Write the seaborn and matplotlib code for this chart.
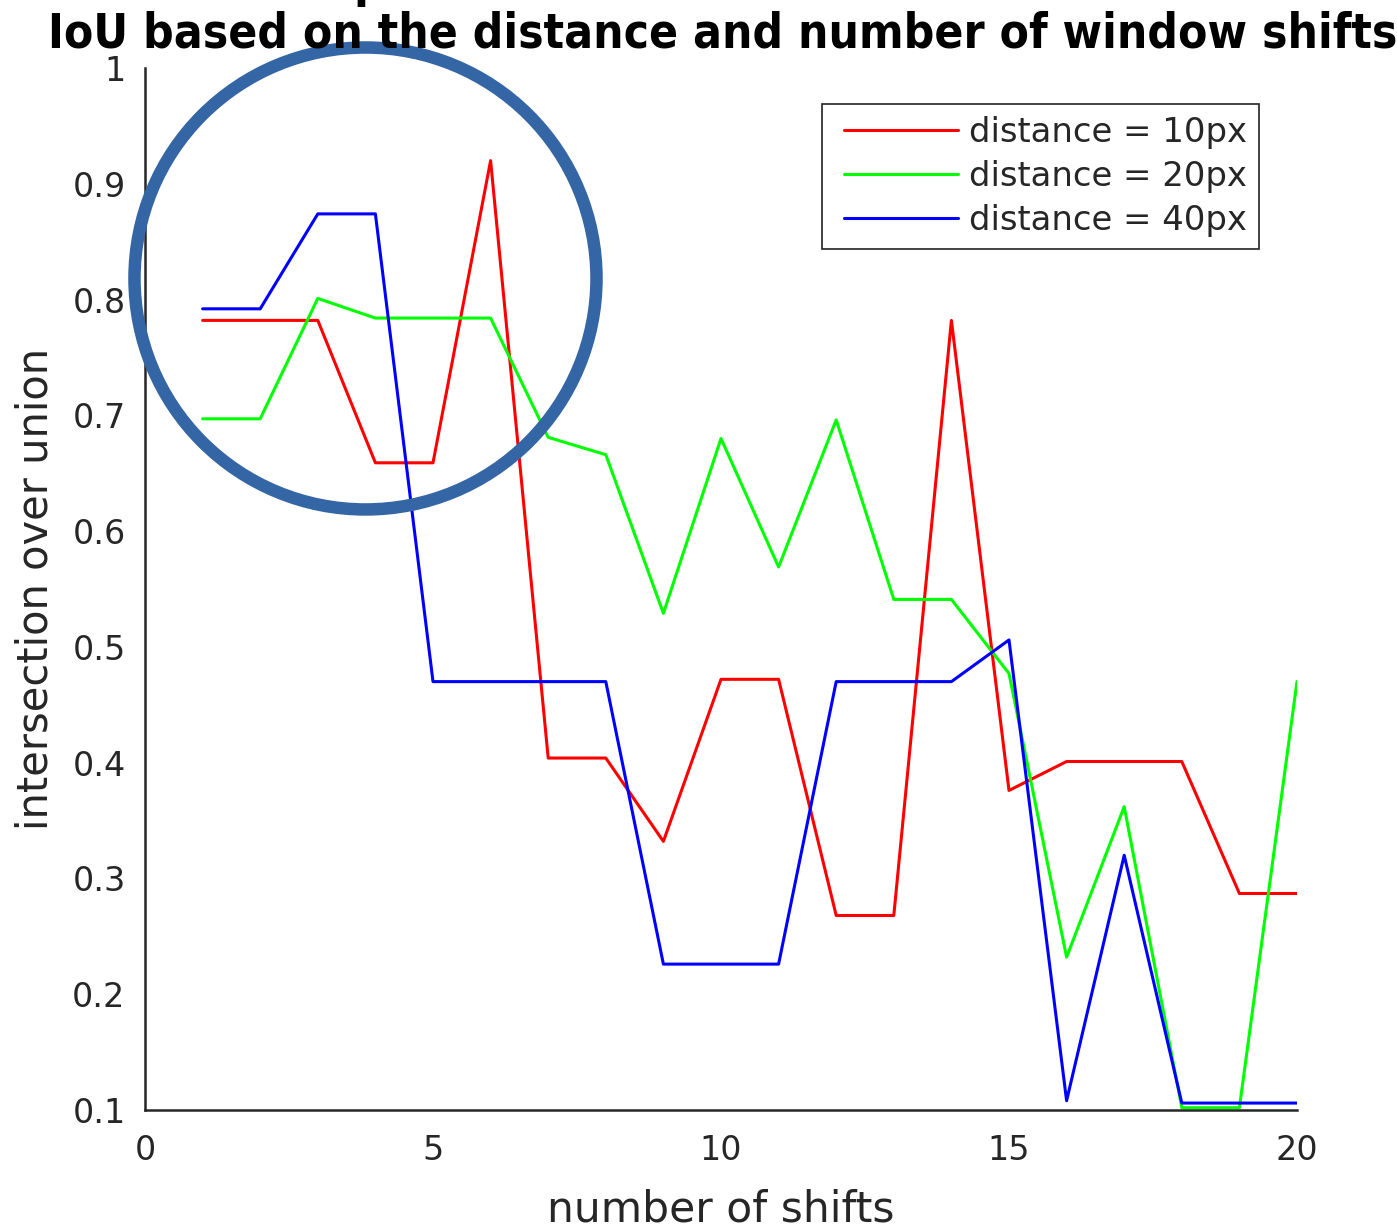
import matplotlib
matplotlib.use("Agg")
import matplotlib.pyplot as plt
from matplotlib.patches import Ellipse
from matplotlib.lines import Line2D
from matplotlib.legend_handler import HandlerLine2D
import numpy as np
import pandas as pd
import seaborn as sns

# values
shifts = list(range(1, 21))
iou_10px = [0.782, 0.782, 0.782, 0.659, 0.659, 0.920, 0.404, 0.404, 0.332, 0.472,
            0.472, 0.268, 0.268, 0.782, 0.376, 0.401, 0.401, 0.401, 0.287, 0.287]
iou_20px = [0.697, 0.697, 0.801, 0.784, 0.784, 0.784, 0.681, 0.666, 0.529, 0.680,
            0.569, 0.696, 0.541, 0.541, 0.477, 0.232, 0.362, 0.102, 0.102, 0.470]
iou_40px = [0.792, 0.792, 0.874, 0.874, 0.470, 0.470, 0.470, 0.470, 0.226, 0.226,
            0.226, 0.470, 0.470, 0.470, 0.506, 0.108, 0.320, 0.106, 0.106, 0.106]
labels = ["distance = 10px", "distance = 20px", "distance = 40px"]
colors = ["#ff0000", "#00ff00", "#0000ff"]

df = pd.DataFrame({
    "shifts": shifts * 3,
    "iou": iou_10px + iou_20px + iou_40px,
    "series": [labels[0]] * 20 + [labels[1]] * 20 + [labels[2]] * 20,
})

sns.set_theme(style="white")
plt.rcParams["font.family"] = ["DejaVu Sans"]
ink = "#262626"

fig = plt.figure(figsize=(13.97, 12.24), dpi=100)
ax = fig.add_axes([145 / 1397, 1 - 1110 / 1224, 1152 / 1397, 1042 / 1224])

sns.lineplot(data=df, x="shifts", y="iou", hue="series", palette=colors,
             linewidth=2.2, ax=ax, legend=True)

ax.set_xlim(0, 20)
ax.set_ylim(0.1, 1)
ax.set_xticks([0, 5, 10, 15, 20])
ax.set_yticks(np.round(np.arange(0.1, 1.01, 0.1), 1))
ax.set_yticklabels(["0.1", "0.2", "0.3", "0.4", "0.5", "0.6", "0.7", "0.8", "0.9", "1"])

for s in ["top", "right"]:
    ax.spines[s].set_visible(False)
for s in ["left", "bottom"]:
    ax.spines[s].set_color(ink)
    ax.spines[s].set_linewidth(1.8)
ax.tick_params(axis="both", direction="in", length=7, width=1.8, color=ink,
               labelcolor=ink, labelsize=24)
ax.tick_params(axis="y", pad=14)
ax.tick_params(axis="x", pad=17)

ax.set_xlabel("number of shifts", fontsize=30.5, color=ink)
ax.set_ylabel("intersection over union", fontsize=30, color=ink)
ax.xaxis.set_label_coords(0.5, -0.0749)
ax.yaxis.set_label_coords(-0.0764, 0.5)

# MATLAB-like legend: a little extra room before the line samples
leg = ax.legend(loc="upper right", bbox_to_anchor=(0.967, 0.9655), borderaxespad=0,
                fontsize=24.4, frameon=True, fancybox=False, framealpha=1,
                edgecolor="#222222", handlelength=3.67, handletextpad=0.33,
                labelspacing=0.33, borderpad=0.35,
                handler_map={Line2D: HandlerLine2D(xpad=0.3)})
leg.get_frame().set_linewidth(1.2)
for t in leg.get_texts():
    t.set_color(ink)

# highlight circle drawn over the first shifts
circle = Ellipse((3.828, 0.8182), width=8.021, height=0.399, fill=False,
                 edgecolor="#3465a4", linewidth=9, zorder=10, clip_on=False)
ax.add_patch(circle)

fig.text(723 / 1397, 1 - 47 / 1224, "IoU based on the distance and number of window shifts",
         ha="center", va="baseline", fontsize=34.3, fontweight="bold",
         fontstretch="condensed", color="black")
fig.text(353 / 1397, 1 + 2 / 1224, "p", ha="left", va="baseline", fontsize=31.5,
         fontweight="bold", color="black")

fig.savefig("out.png", dpi=100)
